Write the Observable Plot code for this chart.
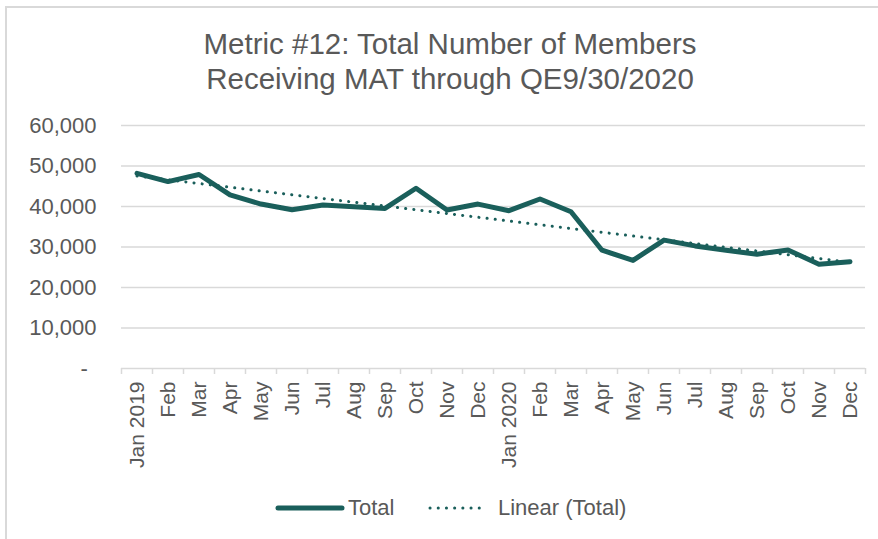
<!DOCTYPE html>
<html>
<head>
<meta charset="utf-8">
<script src="https://cdn.jsdelivr.net/npm/d3@7"></script>
<script src="https://cdn.jsdelivr.net/npm/@observablehq/plot@0.6"></script>
<style>
  html, body { margin: 0; padding: 0; background: #fff; }
  #wrap { position: relative; width: 878px; height: 539px; overflow: hidden; background: #fff;
          font-family: "Liberation Sans", Arial, sans-serif; color: #595959; }
  #frame { position: absolute; left: 5px; top: 6px; width: 900px; height: 600px;
           border-top: 2px solid #d9d9d9; border-left: 2px solid #d9d9d9; }
  #title { position: absolute; top: 26px; left: 0; width: 900px; text-align: center;
           font-size: 29.5px; line-height: 35px; color: #595959; }
  #chart { position: absolute; top: 100px; left: 0; }
  #legend { position: absolute; top: 494px; left: 0; width: 878px; height: 28px; font-size: 22px; color: #595959; }
  .lg { position: absolute; top: 0; display: flex; align-items: center; height: 28px; }
  .lg svg { display: block; }
</style>
</head>
<body>
<div id="wrap">
  <div id="frame"></div>
  <div id="title">Metric #12: Total Number of Members<br>Receiving MAT through QE9/30/2020</div>
  <div id="chart"></div>
  <div id="legend">
    <div class="lg" style="left:275px">
      <svg width="70" height="10"><line x1="3" y1="5" x2="67" y2="5" stroke="#1a5f5b" stroke-width="5" stroke-linecap="round"/></svg>
      <span style="margin-left:3px">Total</span>
    </div>
    <div class="lg" style="left:425px">
      <svg width="66" height="10"><line x1="5" y1="5" x2="62" y2="5" stroke="#1a5f5b" stroke-width="3" stroke-linecap="round" stroke-dasharray="0.1 8.1"/></svg>
      <span style="margin-left:7px">Linear (Total)</span>
    </div>
  </div>
</div>
<script>
const months = ["Jan 2019","Feb","Mar","Apr","May","Jun","Jul","Aug","Sep","Oct","Nov","Dec",
                "Jan 2020","Feb","Mar","Apr","May","Jun","Jul","Aug","Sep","Oct","Nov","Dec"];
const totals = [48200, 46150, 47900, 42850, 40600, 39200, 40370, 39950, 39530, 44500, 39130, 40600,
                38960, 41850, 38700, 29200, 26700, 31700, 30270, 29200, 28200, 29280, 25730, 26380];
const yTicks = [10000, 20000, 30000, 40000, 50000, 60000];

const data = months.map((m, i) => ({i, month: m, total: totals[i]}));
const boundaries = d3.range(months.length + 1).map(k => k - 0.5);
const teal = "#1a5f5b";

const chart = Plot.plot({
  width: 878,
  height: 380,
  marginLeft: 121,
  marginRight: 13,
  marginTop: 25,
  marginBottom: 112,
  style: {fontFamily: "'Liberation Sans', Arial, sans-serif", fontSize: "21px", color: "#595959", background: "transparent", overflow: "visible"},
  x: {domain: [-0.5, months.length - 0.5], label: null},
  y: {domain: [0, 60000], label: null},
  marks: [
    Plot.gridY(yTicks, {stroke: "#d9d9d9", strokeOpacity: 1, strokeWidth: 1.5}),
    Plot.ruleY([0], {stroke: "#d9d9d9", strokeWidth: 1.5}),
    Plot.axisY({ticks: yTicks, tickSize: 0, tickPadding: 25, tickFormat: d3.format(","), fill: "#595959", fontSize: 22}),
    Plot.text([0], {y: d => d, frameAnchor: "left", dx: -41, text: () => "-", fill: "#595959", fontSize: 22}),
    Plot.axisX({ticks: boundaries, tickSize: 6, tickFormat: () => "", stroke: "#d9d9d9", strokeWidth: 1.5}),
    Plot.axisX({ticks: d3.range(months.length), tickSize: 0, tickPadding: 13, tickRotate: -90,
                tickFormat: k => months[k], fill: "#595959", fontSize: 21}),
    Plot.line(data, {x: "i", y: "total", stroke: teal, strokeWidth: 5, strokeLinejoin: "round", strokeLinecap: "round"}),
    Plot.linearRegressionY(data, {x: "i", y: "total", stroke: teal, strokeWidth: 3, ci: 0,
                                  strokeDasharray: "0.1 8.1", strokeLinecap: "round"})
  ]
});
document.getElementById("chart").appendChild(chart);
</script>
</body>
</html>
